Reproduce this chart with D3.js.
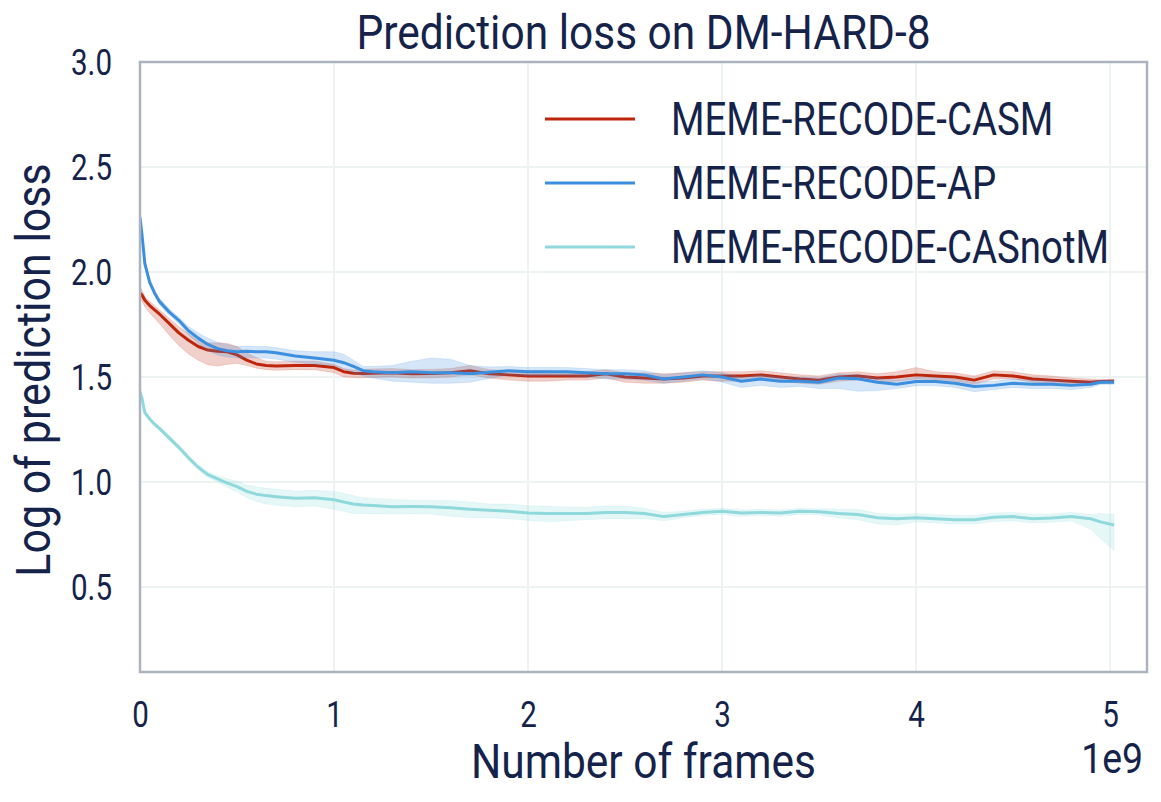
<!DOCTYPE html>
<html>
<head>
<meta charset="utf-8">
<script src="https://cdn.jsdelivr.net/npm/d3@7"></script>
<style>
  body { margin: 0; background: #fff; }
  text { font-family: Roboto, "Noto Sans", sans-serif; fill: #15234b; }
</style>
</head>
<body>
<div id="chart"></div>
<script>
// frames, in units of 1e9
var frames = [
  0, 0.01, 0.025, 0.05, 0.075, 0.1, 0.15, 0.2, 0.25, 0.3,
  0.35, 0.4, 0.45, 0.5, 0.55, 0.6, 0.65, 0.7, 0.8, 0.9,
  1.0, 1.05, 1.1, 1.15, 1.2, 1.3, 1.4, 1.5, 1.6, 1.7,
  1.8, 1.9, 2.0, 2.1, 2.2, 2.3, 2.4, 2.5, 2.6, 2.7,
  2.8, 2.9, 3.0, 3.1, 3.2, 3.3, 3.4, 3.5, 3.6, 3.7,
  3.8, 3.9, 4.0, 4.1, 4.2, 4.3, 4.4, 4.5, 4.6, 4.7,
  4.8, 4.9, 4.95, 5.02];

// MEME-RECODE-CASM
var casm = [
  1.90, 1.89, 1.865, 1.84, 1.82, 1.80, 1.755, 1.71, 1.675, 1.645,
  1.628, 1.622, 1.62, 1.605, 1.58, 1.562, 1.555, 1.552, 1.555, 1.555,
  1.545, 1.525, 1.518, 1.516, 1.518, 1.52, 1.515, 1.516, 1.52, 1.53,
  1.515, 1.51, 1.505, 1.505, 1.505, 1.505, 1.515, 1.50, 1.495, 1.49,
  1.495, 1.505, 1.505, 1.505, 1.51, 1.50, 1.49, 1.485, 1.50, 1.505,
  1.495, 1.50, 1.51, 1.505, 1.50, 1.485, 1.51, 1.505, 1.49, 1.485,
  1.48, 1.475, 1.478, 1.48];
var casmDown = [
  .03, .03, .03, .035, .04, .045, .055, .06, .065, .065,
  .07, .07, .06, .04, .025, .02, .02, .02, .02, .02,
  .025, .025, .02, .02, .02, .02, .02, .02, .02, .02,
  .02, .025, .025, .025, .02, .02, .02, .025, .025, .02,
  .02, .02, .025, .025, .02, .02, .02, .02, .02, .02,
  .02, .02, .02, .02, .02, .02, .02, .015, .015, .015,
  .015, .012, .01, .01];
var casmUp = [
  .03, .025, .02, .02, .02, .02, .025, .03, .03, .03,
  .035, .04, .04, .04, .035, .03, .02, .02, .02, .02,
  .015, .015, .015, .02, .02, .02, .02, .02, .02, .025,
  .02, .02, .025, .025, .02, .02, .02, .02, .025, .025,
  .025, .02, .02, .02, .02, .02, .02, .02, .02, .02,
  .02, .025, .035, .02, .02, .02, .02, .02, .02, .02,
  .015, .015, .01, .01];

// MEME-RECODE-AP
var ap = [
  2.26, 2.18, 2.04, 1.95, 1.90, 1.86, 1.81, 1.77, 1.72, 1.685,
  1.655, 1.635, 1.625, 1.62, 1.622, 1.62, 1.62, 1.615, 1.60, 1.59,
  1.58, 1.568, 1.55, 1.53, 1.525, 1.52, 1.525, 1.52, 1.52, 1.515,
  1.523, 1.53, 1.525, 1.525, 1.525, 1.52, 1.515, 1.515, 1.51, 1.49,
  1.50, 1.51, 1.50, 1.48, 1.49, 1.48, 1.48, 1.475, 1.495, 1.492,
  1.475, 1.465, 1.478, 1.478, 1.47, 1.455, 1.46, 1.47, 1.465, 1.465,
  1.46, 1.465, 1.475, 1.475];
var apDown = [
  .01, .01, .01, .012, .012, .015, .015, .015, .02, .025,
  .03, .03, .03, .03, .03, .03, .03, .03, .03, .03,
  .025, .03, .03, .025, .03, .04, .05, .05, .05, .04,
  .03, .02, .02, .02, .02, .02, .025, .025, .025, .02,
  .02, .02, .025, .03, .03, .03, .025, .03, .05, .06,
  .04, .02, .02, .02, .02, .025, .02, .02, .02, .02,
  .02, .015, .01, .01];
var apUp = [
  .01, .01, .01, .012, .012, .015, .015, .015, .02, .025,
  .03, .03, .03, .025, .025, .025, .025, .025, .025, .03,
  .04, .04, .03, .02, .025, .035, .05, .07, .065, .04,
  .025, .02, .02, .02, .02, .02, .02, .02, .02, .02,
  .02, .02, .02, .02, .02, .02, .02, .02, .02, .02,
  .02, .02, .02, .02, .02, .02, .02, .02, .02, .02,
  .02, .015, .01, .01];

// MEME-RECODE-CASnotM
var notm = [
  1.43, 1.40, 1.33, 1.30, 1.275, 1.255, 1.21, 1.165, 1.115, 1.07,
  1.035, 1.015, 0.995, 0.978, 0.955, 0.942, 0.935, 0.93, 0.922, 0.925,
  0.915, 0.905, 0.895, 0.89, 0.888, 0.882, 0.883, 0.882, 0.877, 0.87,
  0.865, 0.86, 0.852, 0.85, 0.85, 0.85, 0.855, 0.855, 0.85, 0.835,
  0.845, 0.855, 0.86, 0.852, 0.855, 0.852, 0.86, 0.858, 0.85, 0.845,
  0.83, 0.825, 0.83, 0.825, 0.82, 0.82, 0.832, 0.835, 0.825, 0.828,
  0.835, 0.825, 0.81, 0.795];
var notmDown = [
  .01, .01, .01, .01, .01, .01, .012, .012, .012, .012,
  .015, .015, .02, .025, .03, .035, .04, .04, .04, .04,
  .045, .045, .045, .04, .04, .035, .035, .035, .04, .04,
  .035, .035, .035, .04, .035, .03, .03, .03, .025, .02,
  .015, .015, .015, .015, .015, .015, .015, .015, .02, .025,
  .03, .03, .02, .02, .02, .02, .02, .02, .02, .02,
  .02, .05, .08, .12];
var notmUp = [
  .01, .01, .01, .01, .01, .01, .012, .012, .012, .012,
  .015, .015, .02, .025, .03, .035, .035, .035, .035, .035,
  .04, .04, .04, .035, .035, .035, .03, .03, .035, .035,
  .03, .035, .035, .035, .03, .03, .03, .03, .025, .02,
  .015, .015, .015, .015, .015, .015, .015, .015, .02, .025,
  .02, .02, .02, .02, .02, .02, .02, .02, .02, .02,
  .02, .02, .04, .05];

var seriesNames = ["MEME-RECODE-CASM", "MEME-RECODE-AP", "MEME-RECODE-CASnotM"];
var xTicks = [0, 1, 2, 3, 4, 5];
var yTicks = [0.5, 1.0, 1.5, 2.0, 2.5, 3.0];

var svgWidth = 1161;
var svgHeight = 802;
var margin = { top: 62, right: 14, bottom: 130, left: 140 };
var width = svgWidth - margin.left - margin.right;
var height = svgHeight - margin.top - margin.bottom;

var colors = ["#be260c", "#3b8fde", "#8fd9dc"];
var series = [
  { name: seriesNames[0], mean: casm, down: casmDown, up: casmUp, color: colors[0] },
  { name: seriesNames[1], mean: ap, down: apDown, up: apUp, color: colors[1] },
  { name: seriesNames[2], mean: notm, down: notmDown, up: notmUp, color: colors[2] }
];

var svg = d3.select("#chart")
  .append("svg")
  .attr("width", svgWidth)
  .attr("height", svgHeight);

var chartGroup = svg.append("g")
  .attr("transform", `translate(${margin.left}, ${margin.top})`);

var xScale = d3.scaleLinear().domain([0, 5.19]).range([0, width]);
var yScale = d3.scaleLinear().domain([0.095, 3.0]).range([height, 0]);

// grid
chartGroup.append("g").selectAll("line")
  .data(xTicks.filter(d => d > 0))
  .enter().append("line")
  .attr("x1", d => xScale(d)).attr("x2", d => xScale(d))
  .attr("y1", 0).attr("y2", height)
  .attr("stroke", "#edf3f3").attr("stroke-width", 2);

chartGroup.append("g").selectAll("line")
  .data(yTicks)
  .enter().append("line")
  .attr("x1", 0).attr("x2", width)
  .attr("y1", d => yScale(d)).attr("y2", d => yScale(d))
  .attr("stroke", "#edf3f3").attr("stroke-width", 2);

chartGroup.append("clipPath").attr("id", "clip")
  .append("rect").attr("width", width).attr("height", height);

var plotArea = chartGroup.append("g").attr("clip-path", "url(#clip)");

var idx = d3.range(frames.length);

series.forEach(function(s) {
  var area = d3.area()
    .x(i => xScale(frames[i]))
    .y0(i => yScale(s.mean[i] - s.down[i]))
    .y1(i => yScale(s.mean[i] + s.up[i]));
  var line = d3.line()
    .x(i => xScale(frames[i]))
    .y(i => yScale(s.mean[i]));

  plotArea.append("path")
    .datum(idx)
    .attr("d", area)
    .attr("fill", s.color)
    .attr("fill-opacity", 0.22)
    .attr("stroke", s.color)
    .attr("stroke-opacity", 0.15)
    .attr("stroke-width", 1);

  plotArea.append("path")
    .datum(idx)
    .attr("d", line)
    .attr("fill", "none")
    .attr("stroke", s.color)
    .attr("stroke-width", 3)
    .attr("stroke-linejoin", "round");
});

// frame
chartGroup.append("rect")
  .attr("width", width).attr("height", height)
  .attr("fill", "none")
  .attr("stroke", "#abb3bf")
  .attr("stroke-width", 2.5);

// axes
var bottomAxis = d3.axisBottom(xScale).tickValues(xTicks).tickSize(0).tickPadding(29)
  .tickFormat(d3.format("d"));
var leftAxis = d3.axisLeft(yScale).tickValues(yTicks).tickSize(0).tickPadding(28)
  .tickFormat(d3.format(".1f"));

var xAxisG = chartGroup.append("g")
  .attr("transform", `translate(0, ${height})`)
  .call(bottomAxis);
var yAxisG = chartGroup.append("g").call(leftAxis);

[xAxisG, yAxisG].forEach(function(g) {
  g.select(".domain").remove();
  g.selectAll("text")
    .attr("font-family", null)
    .attr("data-squeeze", 0.82)
    .style("font-size", "36px")
    .attr("fill", "#15234b");
});
yAxisG.selectAll("text").attr("dy", "0.36em");

// title
svg.append("text")
  .attr("x", margin.left + width / 2)
  .attr("y", 49)
  .attr("text-anchor", "middle")
  .attr("data-squeeze", 0.885)
  .style("font-size", "48px")
  .text("Prediction loss on DM-HARD-8");

// x label
svg.append("text")
  .attr("x", margin.left + width / 2)
  .attr("y", 778)
  .attr("text-anchor", "middle")
  .attr("data-squeeze", 0.885)
  .style("font-size", "48px")
  .text("Number of frames");

svg.append("text")
  .attr("x", 1143)
  .attr("y", 773)
  .attr("text-anchor", "end")
  .attr("data-squeeze", 0.89)
  .style("font-size", "42px")
  .text("1e9");

// y label
svg.append("text")
  .attr("transform", `translate(50, ${margin.top + height / 2 + 3}) rotate(-90)`)
  .attr("text-anchor", "middle")
  .attr("data-squeeze", 0.895)
  .style("font-size", "48px")
  .text("Log of prediction loss");

// legend
var legend = svg.append("g").selectAll("g")
  .data(series)
  .enter().append("g")
  .attr("transform", (d, i) => `translate(545, ${119 + i * 64})`);

legend.append("line")
  .attr("x1", 0).attr("x2", 90)
  .attr("stroke", d => d.color)
  .attr("stroke-width", 3);

legend.append("text")
  .attr("x", 126)
  .attr("dy", "0.35em")
  .attr("data-squeeze", 0.835)
  .style("font-size", "46px")
  .text(d => d.name);

// narrow the glyphs to look like a condensed face
svg.selectAll("text").each(function() {
  var k = +this.getAttribute("data-squeeze") || 0.85;
  var len = this.getComputedTextLength();
  d3.select(this)
    .attr("textLength", len * k)
    .attr("lengthAdjust", "spacingAndGlyphs");
});
</script>
</body>
</html>
